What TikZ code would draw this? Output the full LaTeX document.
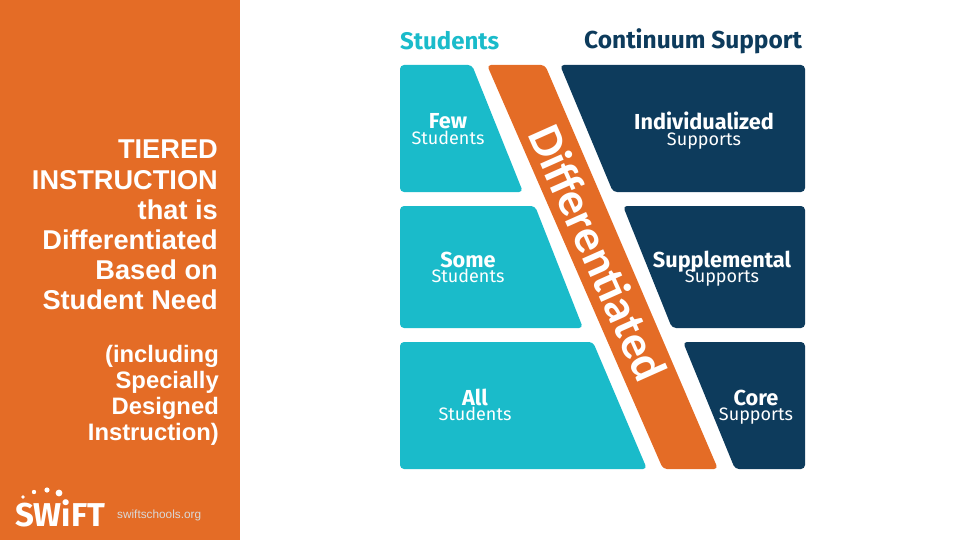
\documentclass[tikz,border=0pt]{standalone}
\usepackage{fontspec}
\setmainfont{Liberation Sans}
\newfontfamily\headfont{Fira Sans}
\newfontfamily\bandfont{Carlito}
\definecolor{swiftorange}{HTML}{E46C26}
\definecolor{swiftteal}{HTML}{1ABBCA}
\definecolor{swiftnavy}{HTML}{0D3B5C}
\begin{document}
\begin{tikzpicture}[
  x=1pt,y=-1pt,
  tier/.style={rounded corners=4pt},
  leftline/.style={align=right,anchor=north east,inner sep=0pt,text=white},
  big/.style={anchor=base,font=\headfont\bfseries\fontsize{21.7}{22}\selectfont,text=white,inner sep=0pt},
  small/.style={anchor=base,font=\headfont\fontsize{18}{18}\selectfont,text=white,inner sep=0pt}
]
  \useasboundingbox (0,0) rectangle (960,540);
  \fill[swiftorange] (0,0) rectangle (240,540);

  \node[leftline,font=\bfseries\fontsize{27.2}{30.2}\selectfont] (title) at (218,140) {TIERED\\INSTRUCTION\\that is\\Differentiated\\Based on\\Student Need};
  \node[leftline,font=\bfseries\fontsize{23.8}{26}\selectfont] (note) at (219,345) {(including\\Specially\\Designed\\Instruction)};
  \node[anchor=west,inner sep=0pt,font=\fontsize{11.8}{12}\selectfont,text=white!85!black] (site) at (117,515) {swiftschools.org};

  % logo
  \node[anchor=west,inner sep=0pt,text=white,font=\headfont\bfseries\fontsize{33}{33}\selectfont] (logo) at (15,513) {SWiFT};
  \fill[white] (23,497) circle (1.8) (34,492) circle (2.2) (47,490) circle (2.6) (59,493) circle (3.4);

  \node[anchor=west,inner sep=0pt,text=swiftteal,font=\headfont\bfseries\fontsize{24}{24}\selectfont] (students) at (400,41) {Students};
  \node[anchor=west,inner sep=0pt,text=swiftnavy,font=\headfont\bfseries\fontsize{24.5}{24}\selectfont] (continuum) at (584,41) {Continuum Support};

  % students
  \fill[swiftteal,tier] (400,65) -- (472,65) -- (523,192) -- (400,192) -- cycle;
  \fill[swiftteal,tier] (400,206) -- (535,206) -- (583,328) -- (400,328) -- cycle;
  \fill[swiftteal,tier] (400,342) -- (593,342) -- (647,469) -- (400,469) -- cycle;
  % band
  \fill[swiftorange,tier] (487,65) -- (545,65) -- (718,469) -- (663,469) -- cycle;
  % supports
  \fill[swiftnavy,tier] (560,65) -- (805,65) -- (805,192) -- (613,192) -- cycle;
  \fill[swiftnavy,tier] (623,206) -- (805,206) -- (805,328) -- (672,328) -- cycle;
  \fill[swiftnavy,tier] (683,342) -- (805,342) -- (805,469) -- (735,469) -- cycle;

  \node[big] (few) at (448,129) {Few};
  \node[small] (fewsub) at ([yshift=-15.5pt]few.base) {Students};
  \node[big] (some) at (468,267) {Some};
  \node[small] (somesub) at ([yshift=-15.5pt]some.base) {Students};
  \node[big] (all) at (475,405) {All};
  \node[small] (allsub) at ([yshift=-15.5pt]all.base) {Students};
  \node[big] (indiv) at (704,130) {Individualized};
  \node[small] (indivsub) at ([yshift=-15.5pt]indiv.base) {Supports};
  \node[big] (suppl) at (722,267) {Supplemental};
  \node[small] (supplsub) at ([yshift=-15.5pt]suppl.base) {Supports};
  \node[big] (core) at (756,405) {Core};
  \node[small] (coresub) at ([yshift=-15.5pt]core.base) {Supports};

  \node[rotate=-66,text=white,inner sep=0pt,font=\bandfont\bfseries\fontsize{47.5}{47}\selectfont] (diff) at (598,253) {Differentiated};
\end{tikzpicture}
\end{document}
